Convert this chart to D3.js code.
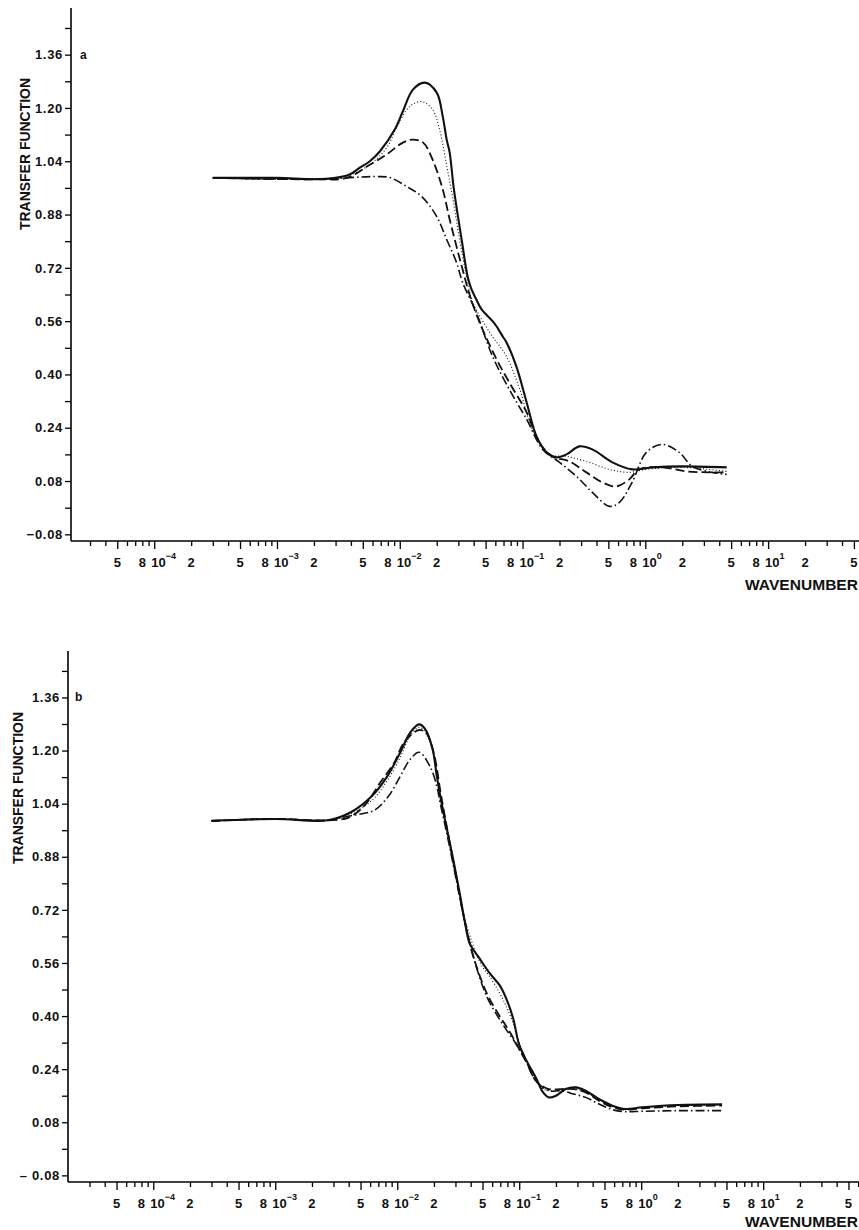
<!DOCTYPE html>
<html>
<head>
<meta charset="utf-8">
<script src="https://cdn.jsdelivr.net/npm/d3@7"></script>
<style>
  html, body { margin: 0; padding: 0; background: #fff; }
  svg { display: block; }
  text { font-family: 'Liberation Sans', Arial, sans-serif; font-weight: bold; fill: #111; }
</style>
</head>
<body>
<div id="chart"></div>
<script>
// panel a: [wavenumber, transfer function]
const aSolid = [
  [3e-4, 0.99], [1e-3, 0.99], [2e-3, 0.986], [3e-3, 0.99], [3.9e-3, 1.0], [4.7e-3, 1.02],
  [5.7e-3, 1.04], [6.9e-3, 1.07], [9.1e-3, 1.135], [1.06e-2, 1.19], [1.28e-2, 1.255],
  [1.6e-2, 1.276], [2.0e-2, 1.246], [2.24e-2, 1.174], [2.41e-2, 1.105], [2.55e-2, 1.066],
  [2.75e-2, 0.96], [3.19e-2, 0.805], [3.57e-2, 0.694], [3.8e-2, 0.66], [4.2e-2, 0.625],
  [4.64e-2, 0.595], [5.7e-2, 0.56], [6.15e-2, 0.544], [6.9e-2, 0.514], [7.4e-2, 0.496],
  [8.9e-2, 0.424], [0.108, 0.316], [0.13, 0.214], [0.157, 0.166], [0.189, 0.151],
  [0.228, 0.16], [0.29, 0.184], [0.37, 0.175], [0.54, 0.136], [0.78, 0.115],
  [1.14, 0.121], [2.0, 0.124], [4.6, 0.121]
];
const aDotted = [
  [3e-4, 0.99], [2e-3, 0.986], [3.9e-3, 0.998], [5.7e-3, 1.03], [7.8e-3, 1.08],
  [9.5e-3, 1.144], [1.2e-2, 1.204], [1.51e-2, 1.219], [1.85e-2, 1.195], [2.11e-2, 1.135],
  [2.4e-2, 1.03], [2.7e-2, 0.93], [3.07e-2, 0.805], [3.5e-2, 0.694], [3.9e-2, 0.62],
  [5.4e-2, 0.526], [7.4e-2, 0.454], [9.5e-2, 0.355], [0.12, 0.235], [0.166, 0.16],
  [0.228, 0.154], [0.33, 0.139], [0.51, 0.115], [0.74, 0.106], [1.02, 0.115],
  [2.0, 0.121], [4.6, 0.109]
];
const aDashed = [
  [3e-4, 0.99], [2e-3, 0.986], [3.7e-3, 0.99], [5.4e-3, 1.024], [7.8e-3, 1.06],
  [1.06e-2, 1.096], [1.28e-2, 1.105], [1.55e-2, 1.096], [1.85e-2, 1.045], [2.24e-2, 0.955],
  [2.55e-2, 0.865], [2.9e-2, 0.784], [3.25e-2, 0.715], [3.7e-2, 0.64], [4.47e-2, 0.556],
  [6.15e-2, 0.445], [7.8e-2, 0.376], [0.108, 0.286], [0.137, 0.196], [0.175, 0.154],
  [0.241, 0.139], [0.331, 0.106], [0.447, 0.076], [0.58, 0.064], [0.74, 0.085],
  [0.89, 0.115], [1.37, 0.121], [2.15, 0.109], [3.3, 0.106], [4.6, 0.106]
];
const aDashDot = [
  [3e-4, 0.99], [2e-3, 0.986], [6.5e-3, 0.994], [8.3e-3, 0.991], [1.14e-2, 0.964],
  [1.51e-2, 0.934], [2.0e-2, 0.874], [2.41e-2, 0.805], [2.9e-2, 0.736], [3.25e-2, 0.676],
  [4.2e-2, 0.586], [5.7e-2, 0.454], [7.8e-2, 0.355], [0.108, 0.265], [0.146, 0.175],
  [0.2, 0.136], [0.275, 0.094], [0.37, 0.046], [0.51, 0.004], [0.615, 0.016],
  [0.78, 0.076], [1.02, 0.166], [1.37, 0.19], [1.89, 0.166], [2.41, 0.124],
  [3.5, 0.106], [4.6, 0.1]
];

// panel b
const bSolid = [
  [3e-4, 0.988], [1e-3, 0.994], [2.7e-3, 0.99], [4.2e-3, 1.015], [6.2e-3, 1.063],
  [8.3e-3, 1.123], [1.06e-2, 1.195], [1.28e-2, 1.255], [1.51e-2, 1.279], [1.7e-2, 1.264],
  [1.95e-2, 1.204], [2.11e-2, 1.123], [2.3e-2, 1.045], [2.55e-2, 0.964], [2.9e-2, 0.865],
  [3.25e-2, 0.77], [3.6e-2, 0.68], [3.92e-2, 0.62], [4.8e-2, 0.57], [5.7e-2, 0.53],
  [6.9e-2, 0.493], [7.8e-2, 0.454], [8.9e-2, 0.394], [0.1, 0.313], [0.115, 0.265],
  [0.137, 0.214], [0.157, 0.17], [0.175, 0.155], [0.2, 0.16], [0.24, 0.18],
  [0.29, 0.185], [0.35, 0.175], [0.45, 0.15], [0.58, 0.13], [0.74, 0.12],
  [1.02, 0.125], [2.0, 0.132], [4.6, 0.134]
];
const bDotted = [
  [3e-4, 0.988], [1e-3, 0.994], [2.7e-3, 0.99], [4.2e-3, 1.01], [6.2e-3, 1.05],
  [8.3e-3, 1.11], [1.06e-2, 1.18], [1.28e-2, 1.245], [1.51e-2, 1.27], [1.7e-2, 1.255],
  [1.95e-2, 1.2], [2.3e-2, 1.05], [2.9e-2, 0.87], [3.6e-2, 0.69], [4.8e-2, 0.56],
  [5.7e-2, 0.52], [6.9e-2, 0.47], [7.8e-2, 0.43], [8.9e-2, 0.38], [0.1, 0.32],
  [0.115, 0.265], [0.137, 0.21], [0.157, 0.18], [0.2, 0.175], [0.24, 0.18],
  [0.29, 0.18], [0.35, 0.17], [0.45, 0.15], [0.58, 0.13], [0.74, 0.12],
  [1.02, 0.125], [2.0, 0.13], [4.6, 0.132]
];
const bDashed = [
  [3e-4, 0.988], [1e-3, 0.994], [2.7e-3, 0.99], [4.0e-3, 0.998], [5.4e-3, 1.035],
  [7.3e-3, 1.105], [9.5e-3, 1.165], [1.14e-2, 1.225], [1.51e-2, 1.262], [1.75e-2, 1.25],
  [2.0e-2, 1.19], [2.3e-2, 1.06], [2.9e-2, 0.86], [3.6e-2, 0.68], [4.2e-2, 0.58],
  [5.4e-2, 0.47], [6.9e-2, 0.4], [7.8e-2, 0.37], [8.9e-2, 0.335], [0.1, 0.3],
  [0.115, 0.26], [0.137, 0.205], [0.175, 0.18], [0.22, 0.18], [0.28, 0.18],
  [0.35, 0.17], [0.45, 0.145], [0.58, 0.125], [0.74, 0.118], [1.02, 0.122],
  [2.0, 0.128], [4.6, 0.13]
];
const bDashDot = [
  [3e-4, 0.988], [1e-3, 0.994], [2.7e-3, 0.99], [3.7e-3, 1.0], [5.0e-3, 1.009],
  [6.5e-3, 1.02], [8.5e-3, 1.063], [1.06e-2, 1.123], [1.28e-2, 1.174], [1.51e-2, 1.195],
  [1.85e-2, 1.153], [2.11e-2, 1.093], [2.24e-2, 1.045], [2.55e-2, 0.95], [2.9e-2, 0.85],
  [3.6e-2, 0.68], [4.2e-2, 0.58], [5.4e-2, 0.46], [6.9e-2, 0.39], [7.8e-2, 0.36],
  [8.9e-2, 0.33], [0.1, 0.3], [0.115, 0.26], [0.137, 0.205], [0.175, 0.175],
  [0.22, 0.175], [0.28, 0.165], [0.35, 0.155], [0.45, 0.135], [0.58, 0.118],
  [0.74, 0.112], [1.02, 0.113], [2.0, 0.115], [4.6, 0.115]
];

// axes
const yLabelValues = [1.36, 1.20, 1.04, 0.88, 0.72, 0.56, 0.40, 0.24, 0.08, -0.08];
const yMinorValues = [1.44, 1.28, 1.12, 0.96, 0.80, 0.64, 0.48, 0.32, 0.16, 0.0];
const xDecades = [-4, -3, -2, -1, 0, 1];
const xMantissas = [2, 5, 8];

const lineStyles = {
  solid: { width: 2.1, dash: null },
  dotted: { width: 1.1, dash: '1,2.2' },
  dashed: { width: 1.8, dash: '9,4' },
  dashdot: { width: 1.6, dash: '9,3,1.5,3' }
};

const panels = [
  {
    letter: 'a', top: 8, bottom: 541, left: 71, right: 859, xDomain: [2.1e-5, 55],
    minusLabel: '\u22120.08', titleX: 25, titleY: 154, letterX: 80, xLabelY: 590,
    series: [[aSolid, 'solid'], [aDotted, 'dotted'], [aDashed, 'dashed'], [aDashDot, 'dashdot']]
  },
  {
    letter: 'b', top: 651, bottom: 1182, left: 68, right: 859, xDomain: [2.0e-5, 61],
    minusLabel: '\u2013 0.08', titleX: 18, titleY: 788, letterX: 75, xLabelY: 1227,
    series: [[bSolid, 'solid'], [bDotted, 'dotted'], [bDashed, 'dashed'], [bDashDot, 'dashdot']]
  }
];

function init() {
  const svg = d3.select('#chart').append('svg')
    .attr('width', 859)
    .attr('height', 1230);

  panels.forEach(p => {
    const x = d3.scaleLog().domain(p.xDomain).range([p.left, p.right]);
    const y = d3.scaleLinear().domain([-0.10, 1.50]).range([p.bottom, p.top]);
    const g = svg.append('g');
    // keep a few px clear of the axis ends
    const inside = v => x(v) > p.left + 3 && x(v) < p.right;

    // y axis
    const yAxis = d3.axisLeft(y)
      .tickValues(yLabelValues.concat(yMinorValues))
      .tickSize(6)
      .tickPadding(2)
      .tickFormat(d => {
        if (yMinorValues.includes(d)) return '';
        return d < 0 ? p.minusLabel : d3.format('.2f')(d);
      });
    g.append('g')
      .attr('transform', `translate(${p.left},0)`)
      .call(yAxis)
      .call(a => a.select('.domain').attr('d', `M0,${p.top}V${p.bottom}`).attr('stroke-width', 1.6))
      .call(a => a.selectAll('.tick line').attr('stroke-width', 1.3))
      .call(a => a.selectAll('.tick text')
        .style('font-size', '13px').style('letter-spacing', '0.7px').attr('fill', '#111'));

    // x axis: minor ticks 1..9 per decade
    const allTicks = [];
    for (let e = -5; e <= 2; e++) {
      for (let m = 1; m <= 9; m++) {
        const v = m * Math.pow(10, e);
        if (v > p.xDomain[0] && v < p.xDomain[1] && inside(v)) allTicks.push(v);
      }
    }
    const xAxis = d3.axisBottom(x)
      .tickValues(allTicks)
      .tickSize(5)
      .tickFormat('');
    g.append('g')
      .attr('transform', `translate(0,${p.bottom})`)
      .call(xAxis)
      .call(a => a.select('.domain').attr('d', `M${p.left},0H${p.right}`).attr('stroke-width', 1.6))
      .call(a => a.selectAll('.tick line')
        .attr('stroke-width', 1.3)
        .attr('y2', d => {
          const m = Math.round(d / Math.pow(10, Math.floor(Math.log10(d) + 1e-9)));
          return (m === 1 || m === 5) ? 8 : 5;
        }));

    // x tick labels
    const labelG = g.append('g').style('font-size', '13px');
    xDecades.forEach(e => {
      const base = Math.pow(10, e);
      const t = labelG.append('text')
        .attr('x', x(base) - 3)
        .attr('y', p.bottom + 26);
      t.append('tspan').text('10');
      t.append('tspan').attr('dy', -8).style('font-size', '9px').text(String(e).replace('-', '\u2212'));
    });
    xDecades.concat([-5]).forEach(e => {
      xMantissas.forEach(m => {
        const v = m * Math.pow(10, e);
        if (!inside(v) || v > p.xDomain[1]) return;
        labelG.append('text')
          .attr('x', x(v))
          .attr('y', p.bottom + 26)
          .attr('text-anchor', 'middle')
          .text(m);
      });
    });

    // axis titles
    g.append('text')
      .attr('transform', `translate(${p.titleX + 5},${p.titleY}) rotate(-90)`)
      .attr('text-anchor', 'middle')
      .attr('textLength', 152)
      .attr('lengthAdjust', 'spacingAndGlyphs')
      .style('font-size', '14px')
      .text('TRANSFER FUNCTION');
    g.append('text')
      .attr('x', 858)
      .attr('y', p.xLabelY)
      .attr('text-anchor', 'end')
      .attr('textLength', 113)
      .attr('lengthAdjust', 'spacingAndGlyphs')
      .style('font-size', '14px')
      .text('WAVENUMBER');
    g.append('text')
      .attr('x', p.letterX)
      .attr('y', y(1.36) + 4)
      .style('font-size', '12px')
      .text(p.letter);

    // curves
    const line = d3.line()
      .x(d => x(d[0]))
      .y(d => y(d[1]))
      .curve(d3.curveCatmullRom.alpha(0.5));
    p.series.forEach(([data, style]) => {
      const s = lineStyles[style];
      g.append('path')
        .datum(data)
        .attr('d', line)
        .attr('fill', 'none')
        .attr('stroke', '#111')
        .attr('stroke-width', s.width)
        .attr('stroke-dasharray', s.dash)
        .attr('stroke-linejoin', 'round');
    });
  });
}
document.addEventListener('DOMContentLoaded', init);
</script>
</body>
</html>
